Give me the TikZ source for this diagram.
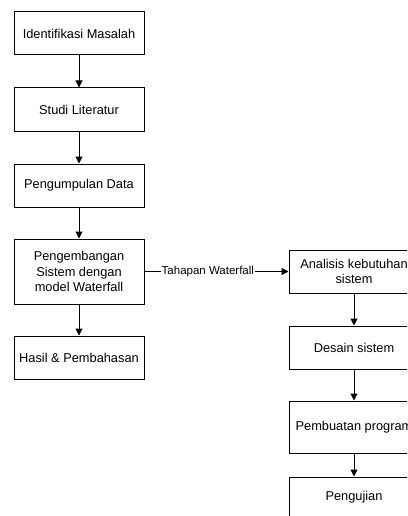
\documentclass[tikz,border=0pt]{standalone}
\usepackage{fontspec}
\setmainfont{Liberation Sans}
\usetikzlibrary{arrows.meta}
\begin{document}
\begin{tikzpicture}[x=1pt,y=-1pt,
 box/.style={draw,line width=1pt,minimum width=130pt,align=center,font=\fontsize{12.8}{15.3}\selectfont,inner sep=0pt},
 arr/.style={-{Triangle[length=7pt,width=7pt]},line width=1pt},
 lbl/.style={fill=white,font=\fontsize{11.5}{13}\selectfont,inner sep=1pt}]
\useasboundingbox (0,0) rectangle (407,516);
\clip (0,0) rectangle (407,516);
\node[box,minimum height=43pt] (b1) at (79,33.5) {Identifikasi Masalah};
\node[box,minimum height=43pt] (b2) at (79,109.5) {Studi Literatur};
\node[box,minimum height=43pt] (b3) at (79,185.5) {Pengumpulan Data};
\node[box,minimum height=65pt] (b4) at (79,271.5) {Pengembangan\\Sistem dengan\\model Waterfall};
\node[box,minimum height=43pt] (b5) at (79,357.5) {Hasil \& Pembahasan};
\node[box,minimum height=43pt] (r1) at (354,271.5) {Analisis kebutuhan\\sistem};
\node[box,minimum height=43pt] (r2) at (354,347.5) {Desain sistem};
\node[box,minimum height=52pt] (r3) at (354,427) {Pembuatan program};
\node[box,minimum height=41pt] (r4) at (354,497.5) {Pengujian};
\draw[arr] (b1) -- (b2);
\draw[arr] (b2) -- (b3);
\draw[arr] (b3) -- (b4);
\draw[arr] (b4) -- (b5);
\draw[arr] (b4) -- node[lbl,pos=0.44] {Tahapan Waterfall} (r1);
\draw[arr] (r1) -- (r2);
\draw[arr] (r2) -- (r3);
\draw[arr] (r3) -- (r4);
\end{tikzpicture}
\end{document}
